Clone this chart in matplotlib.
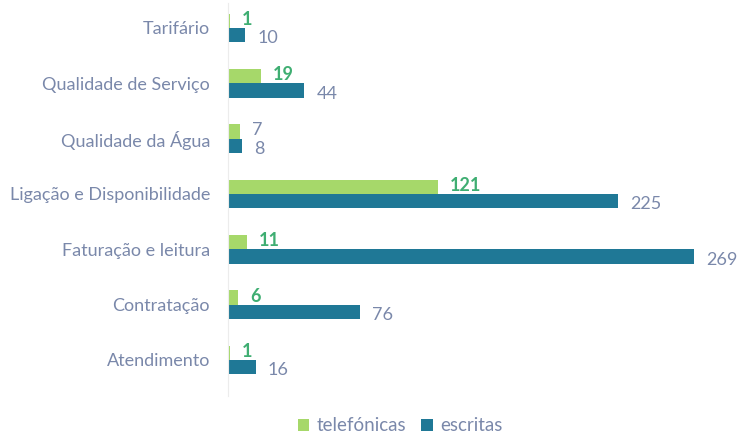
import numpy as np
import matplotlib.pyplot as plt

plt.rcParams["font.family"] = ["Lato", "DejaVu Sans"]

categorias = ["Tarifário", "Qualidade de Serviço", "Qualidade da Água",
              "Ligação e Disponibilidade", "Faturação e leitura",
              "Contratação", "Atendimento"]
telefonicas = [1, 19, 7, 121, 11, 6, 1]
escritas = [10, 44, 8, 225, 269, 76, 16]

verde = "#a6d86a"
azul = "#1f7896"
txt = "#7a88aa"
txt_verde = "#3fae72"

fig = plt.figure(figsize=(7.41, 4.36), dpi=100)
ax = fig.add_axes([0.3077, 0.092, 0.678, 0.901])

y = np.arange(len(categorias))
h = 0.26
b1 = ax.barh(y - h / 2, telefonicas, height=h, color=verde, label="telefónicas")
b2 = ax.barh(y + h / 2, escritas, height=h, color=azul, label="escritas")

# value labels: phone counts above-right, written counts below-right
for yi, v in zip(y, telefonicas):
    cor = txt if v == 7 else txt_verde
    ax.text(v + 7, yi - h / 2 - 0.02, str(v), color=cor, fontsize=13,
            fontweight="bold" if v != 7 else "normal", va="center", ha="left")
for yi, v in zip(y, escritas):
    ax.text(v + 7, yi + h / 2 + 0.06, str(v), color=txt, fontsize=13,
            va="center", ha="left")

ax.set_ylim(len(categorias) - 0.35, -0.45)
ax.set_xlim(0, 290)
ax.set_yticks(y)
ax.set_yticklabels(categorias, color=txt, fontsize=13)
ax.tick_params(axis="y", length=0, pad=13)
ax.set_xticks([])
for s in ["top", "right", "bottom"]:
    ax.spines[s].set_visible(False)
ax.spines["left"].set_color("#ececec")
ax.spines["left"].set_linewidth(0.8)

leg = fig.legend(handles=[b1, b2], loc="lower center", ncol=2,
                 bbox_to_anchor=(0.54, -0.035), frameon=False, fontsize=13.5,
                 handlelength=0.6, handleheight=0.6, handletextpad=0.4,
                 columnspacing=0.8)
for t in leg.get_texts():
    t.set_color(txt)

fig.savefig("out.png", dpi=100)
